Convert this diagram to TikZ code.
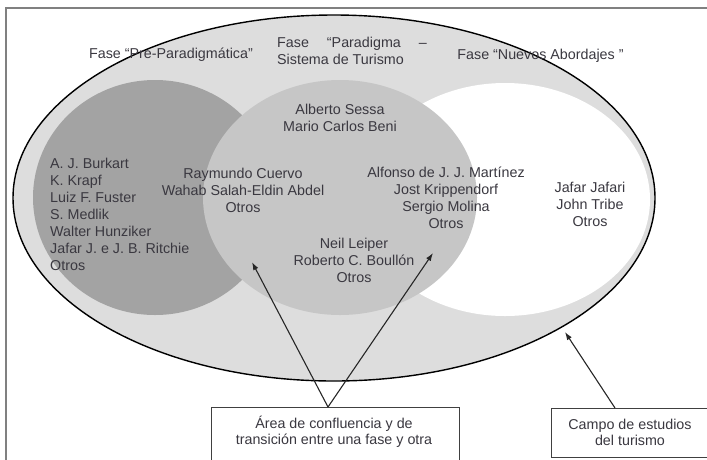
\documentclass[tikz,border=0pt]{standalone}
\usepackage{fontspec}
\setmainfont{Liberation Sans}
\usetikzlibrary{arrows.meta}
\definecolor{outerfill}{RGB}{221,221,221}
\definecolor{darkfill}{RGB}{163,163,163}
\definecolor{midfill}{RGB}{198,198,198}
\definecolor{txtcol}{RGB}{58,56,64}
\definecolor{framecol}{RGB}{128,128,128}
\tikzset{
  txt/.style={inner sep=0pt, text=txtcol, font=\fontsize{14.3}{17}\selectfont},
  boxtxt/.style={inner sep=0pt, text=txtcol, align=center, font=\fontsize{14.3}{16}\selectfont},
  labelbox/.style={draw=black!75, line width=0.9pt, fill=white, inner sep=0pt},
  pointer/.style={draw=black!85, line width=1.1pt, -{Latex[length=8pt,width=5.5pt]}},
  framestyle/.style={draw=framecol, line width=1.4pt}
}
\begin{document}
\begin{tikzpicture}[x=1pt,y=-1pt]
\useasboundingbox (0,0) rectangle (707,459);
% frame
\draw[framestyle] (6,470) -- (6,8) -- (720,8);
% big field ellipse
\fill[outerfill] (334,198) ellipse [x radius=321pt, y radius=183pt];
% phase ellipses
\fill[darkfill] (155,197.5) ellipse [x radius=122pt, y radius=117.5pt];
\fill[white] (505,199.5) ellipse [x radius=145pt, y radius=116.5pt];
\fill[midfill] (340,197.5) ellipse [x radius=137pt, y radius=117.5pt];
\draw[black, line width=1.4pt] (334,198) ellipse [x radius=321pt, y radius=183pt];
% phase titles
\node[txt] (fasepre) at (171,55) {Fase “Pre-Paradigmática”};
\node[txt, align=left, anchor=west] (faseparad) at (277,50.5) {Fase\hspace{18pt}“Paradigma\hspace{18pt}–\\Sistema de Turismo};
\node[txt] (fasenuevos) at (540.5,56) {Fase “Nuevos Abordajes ”};
% authors
\node[txt, align=left, anchor=west] (prelist) at (50,214.5) {A. J. Burkart\\K. Krapf\\Luiz F. Fuster\\S. Medlik\\Walter Hunziker\\Jafar J. e J. B. Ritchie\\Otros};
\node[txt, align=center] (sessa) at (340,117.5) {Alberto Sessa\\Mario Carlos Beni};
\node[txt, align=center] (cuervo) at (243,190) {Raymundo Cuervo\\Wahab Salah-Eldin Abdel\\Otros};
\node[txt, align=center] (martinez) at (446,198) {Alfonso de J. J. Martínez\\Jost Krippendorf\\Sergio Molina\\Otros};
\node[txt, align=center] (leiper) at (354,260) {Neil Leiper\\Roberto C. Boullón\\Otros};
\node[txt, align=center] (jafari) at (590,204.5) {Jafar Jafari\\John Tribe\\Otros};
% label boxes
\node[labelbox, anchor=north west, minimum width=248pt, minimum height=70pt] (box1) at (211,407) {};
\node[boxtxt] (areatext) at (334,432) {Área de confluencia y de\\transición entre una fase y otra};
\node[labelbox, anchor=north west, minimum width=170pt, minimum height=49pt] (box2) at (551,408) {};
\node[boxtxt] (campotext) at (630,432) {Campo de estudios\\del turismo};
% pointers
\coordinate (apex) at (328,407);
\coordinate (tipA) at (252,262);
\coordinate (tipB) at (433,253);
\coordinate (box2top) at (615,408);
\coordinate (tipC) at (565,332);
\draw[pointer] (apex) -- (tipA);
\draw[pointer] (apex) -- (tipB);
\draw[pointer] (box2top) -- (tipC);
\end{tikzpicture}
\end{document}
